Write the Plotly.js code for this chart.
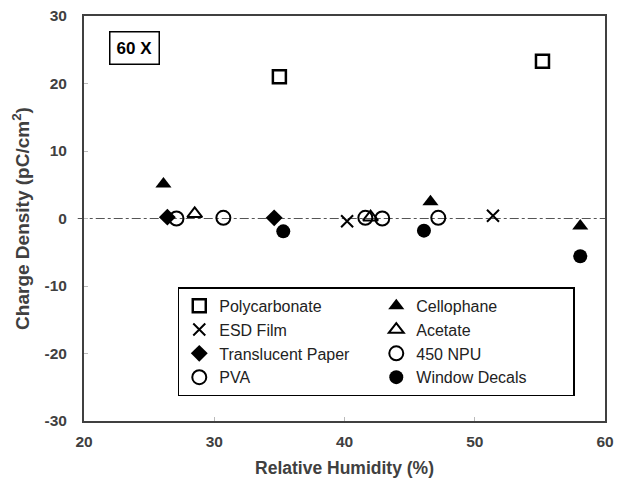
<!DOCTYPE html>
<html>
<head>
<meta charset="utf-8">
<script src="https://cdn.plot.ly/plotly-3.0.1.min.js"></script>
<style>
html,body{margin:0;padding:0;background:#fff;}
#chart{width:618px;height:478px;}
</style>
</head>
<body>
<div id="chart"></div>
<script>
// Data
const seriesNames = ["Polycarbonate", "Cellophane", "ESD Film", "Acetate", "Translucent Paper", "450 NPU", "PVA", "Window Decals"];

const polycarbonateX = [35.0, 55.2];
const polycarbonateY = [21.0, 23.3];

const cellophaneX = [26.1, 46.6, 58.1];
const cellophaneY = [5.1, 2.5, -1.1];

const esdFilmX = [40.2, 51.4];
const esdFilmY = [-0.4, 0.4];

const acetateX = [28.5, 42.0];
const acetateY = [0.7, 0.2];

const translucentX = [26.4, 34.6];
const translucentY = [0.2, 0.1];

const npu450X = [27.1, 41.6, 47.2];
const npu450Y = [0.0, 0.1, 0.1];

const pvaX = [30.7, 42.9];
const pvaY = [0.1, 0.0];

const decalsX = [35.3, 46.1, 58.1];
const decalsY = [-1.9, -1.8, -5.6];

const xTicks = [20, 30, 40, 50, 60];
const yTicks = [-30, -20, -10, 0, 10, 20, 30];

const FONT = "Liberation Sans, Arial, sans-serif";
const AX = "#404040";

function tr(name, x, y, symbol, size, lw) {
  return {
    type: "scatter", mode: "markers", name: name, x: x, y: y,
    marker: {symbol: symbol, size: size, color: "#000", line: {color: "#000", width: lw}},
    hoverinfo: "x+y+name"
  };
}

const data = [
  tr(seriesNames[0], polycarbonateX, polycarbonateY, "square-open", 13, 2.5),
  tr(seriesNames[1], cellophaneX, cellophaneY, "triangle-up", 14, 0),
  tr(seriesNames[2], esdFilmX, esdFilmY, "x-thin-open", 12, 2),
  tr(seriesNames[3], acetateX, acetateY, "triangle-up-open", 13, 2),
  tr(seriesNames[4], translucentX, translucentY, "diamond", 13, 0),
  tr(seriesNames[5], npu450X, npu450Y, "circle-open", 14, 2),
  tr(seriesNames[6], pvaX, pvaY, "circle-open", 14, 2),
  tr(seriesNames[7], decalsX, decalsY, "circle", 14, 0)
];

const axisCommon = {
  showgrid: false, zeroline: false, showline: true, linecolor: AX, linewidth: 2,
  mirror: true, ticks: "inside", ticklen: 4, tickcolor: "#bbb", tickwidth: 1,
  tickfont: {family: FONT, size: 15.5, color: AX, weight: "bold"}
};

const layout = {
  width: 618, height: 478,
  margin: {l: 84, r: 13, t: 16, b: 57},
  paper_bgcolor: "#fff", plot_bgcolor: "#fff",
  showlegend: true,
  xaxis: Object.assign({}, axisCommon, {
    range: [20, 60], tickvals: xTicks, ticktext: xTicks.map(String),
    ticklabelstandoff: 5,
    title: {text: "Relative Humidity (%)", font: {family: FONT, size: 17.5, color: AX, weight: "bold"}, standoff: 14}
  }),
  yaxis: Object.assign({}, axisCommon, {
    range: [-30, 30], tickvals: yTicks, ticktext: yTicks.map(String),
    ticklabelstandoff: 12,
    title: {text: "Charge Density (pC/cm<sup>2</sup>)", font: {family: FONT, size: 19, color: AX, weight: "bold"}, standoff: 10}
  }),
  legend: {
    orientation: "h", x: 0.18, y: 0.33, xanchor: "left", yanchor: "top",
    bgcolor: "#fff", bordercolor: "#000", borderwidth: 1.5,
    font: {family: FONT, size: 16, color: "#222"},
    entrywidth: 152, entrywidthmode: "pixels", itemwidth: 30
  },
  shapes: [{
    type: "line", xref: "paper", yref: "y", x0: -0.012, x1: 1, y0: 0, y1: 0,
    line: {color: "#555", width: 1, dash: "dashdot"}, layer: "below"
  }],
  annotations: [{
    xref: "paper", yref: "paper", x: 0.048, y: 0.962, xanchor: "left", yanchor: "top",
    text: "<b>60 X</b>", showarrow: false,
    font: {family: FONT, size: 17, color: "#000"},
    bordercolor: "#000", borderwidth: 1.5, borderpad: 6, bgcolor: "#fff"
  }]
};

Plotly.newPlot("chart", data, layout, {displayModeBar: false, staticPlot: true});
</script>
</body>
</html>
